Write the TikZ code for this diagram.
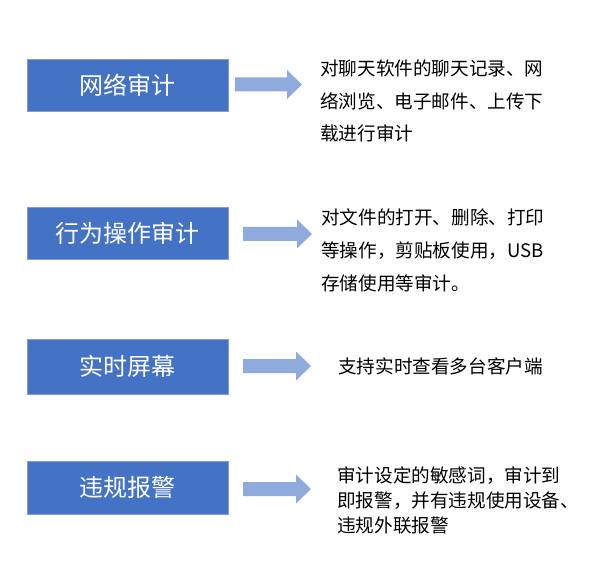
\documentclass[tikz,border=0pt]{standalone}
\usepackage{fontspec}
\setmainfont{Noto Sans CJK SC}
\definecolor{boxblue}{HTML}{4472C4}
\definecolor{boxedge}{HTML}{7F9ED6}
\definecolor{arrowblue}{HTML}{8FAADC}
\newcommand\blockarrow[3]{%
  \fill[arrowblue] (#1,#3-7) -- (#2-15,#3-7) -- (#2-15,#3-14.5) -- (#2,#3)
    -- (#2-15,#3+14.5) -- (#2-15,#3+7) -- (#1,#3+7) -- cycle;}
\tikzset{
  catbox/.style={draw=boxedge, line width=0.8pt, fill=boxblue, text=white,
    minimum width=201pt, minimum height=52pt, inner sep=0pt,
    font=\fontsize{24}{28}\selectfont},
  desc/.style={anchor=west, align=left, inner sep=0pt, text=black},
}
\begin{document}
\begin{tikzpicture}[x=1pt,y=-1pt]
\useasboundingbox (0,0) rectangle (594,577);
\node[catbox] (b1) at (127.5,85) {网络审计};
\node[catbox] (b2) at (127.5,233) {行为操作审计};
\node[catbox, minimum height=55pt] (b3) at (127.5,366.5) {实时屏幕};
\node[catbox, minimum height=53pt] (b4) at (127.5,487.5) {违规报警};
\blockarrow{235}{302}{84.5}
\blockarrow{243}{312}{234}
\blockarrow{243}{311}{366}
\blockarrow{243}{311}{489}
\node[desc, font=\fontsize{18.6}{32.5}\selectfont] (t1) at (320,101)
  {对聊天软件的聊天记录、网\\络浏览、电子邮件、上传下\\载进行审计};
\node[desc, font=\fontsize{18.6}{33}\selectfont] (t2) at (321,250)
  {对文件的打开、删除、打印\\等操作，剪贴板使用，USB\\存储使用等审计。};
\node[desc, font=\fontsize{18.6}{25}\selectfont] (t3) at (338,366)
  {支持实时查看多台客户端};
\node[desc, font=\fontsize{18.6}{25}\selectfont] (t4) at (337,500)
  {审计设定的敏感词，审计到\\即报警，并有违规使用设备、\\违规外联报警};
\end{tikzpicture}
\end{document}
